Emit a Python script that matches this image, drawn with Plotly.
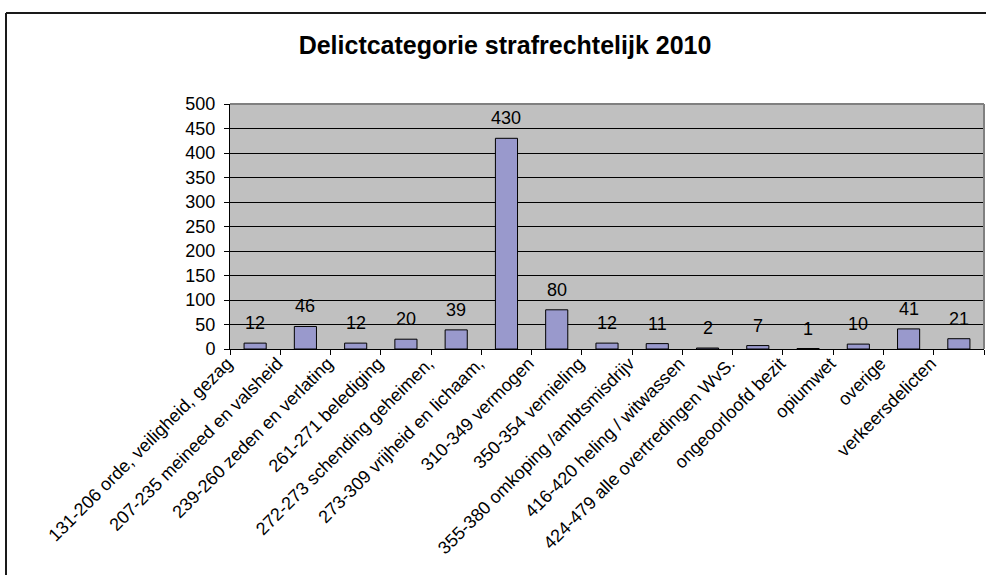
import plotly.graph_objects as go

categories = [
    "131-206 orde, veiligheid, gezag",
    "207-235 meineed en valsheid",
    "239-260 zeden en verlating",
    "261-271 belediging",
    "272-273 schending geheimen,",
    "273-309 vrijheid en lichaam,",
    "310-349 vermogen",
    "350-354 vernieling",
    "355-380 omkoping /ambtsmisdrijv",
    "416-420 heling / witwassen",
    "424-479 alle overtredingen WvS.",
    "ongeoorloofd bezit",
    "opiumwet",
    "overige",
    "verkeersdelicten",
]
values = [12, 46, 12, 20, 39, 430, 80, 12, 11, 2, 7, 1, 10, 41, 21]
title_text = "Delictcategorie strafrechtelijk 2010"

W, H = 986, 575
L, R, T, B = 230, 2, 104, 226
pw = W - L - R
ph = H - T - B
FONT = "Liberation Sans, Arial, sans-serif"

fig = go.Figure()
fig.add_trace(go.Bar(
    x=categories, y=values,
    marker=dict(color="#9999CC", line=dict(color="#000000", width=1)),
    width=0.44,
    hoverinfo="x+y",
))

annotations = []
for c, v in zip(categories, values):
    annotations.append(dict(
        x=c, y=v, xref="x", yref="y", text=str(v), showarrow=False,
        yanchor="bottom", yshift=8,
        font=dict(family=FONT, size=18, color="#000000"),
    ))

def px_x(p):
    return (p - L) / pw

def px_y(p):
    return (H - B - p) / ph

shapes = [
    # outer frame (left and top edges)
    dict(type="line", xref="paper", yref="paper", x0=px_x(6), x1=px_x(6),
         y0=px_y(13), y1=px_y(580), line=dict(color="#1a1a1a", width=2)),
    dict(type="line", xref="paper", yref="paper", x0=px_x(6), x1=px_x(990),
         y0=px_y(13), y1=px_y(13), line=dict(color="#1a1a1a", width=2)),
    # plot area border top/right (gray)
    dict(type="line", xref="paper", yref="paper", x0=0, x1=1, y0=1, y1=1,
         line=dict(color="#808080", width=2)),
    dict(type="line", xref="paper", yref="paper", x0=1, x1=1, y0=0, y1=1,
         line=dict(color="#808080", width=2)),
]

fig.update_layout(
    width=W, height=H,
    margin=dict(l=L, r=R, t=T, b=B, autoexpand=False),
    paper_bgcolor="#FFFFFF",
    plot_bgcolor="#C0C0C0",
    showlegend=False,
    bargap=0.56,
    title=dict(
        text="<b>" + title_text + "</b>",
        x=505 / W, xanchor="center", xref="container",
        y=1 - 45 / H, yanchor="middle", yref="container",
        font=dict(family=FONT, size=25, color="#000000"),
    ),
    xaxis=dict(
        type="category",
        tickangle=-45,
        tickfont=dict(family=FONT, size=18, color="#000000"),
        showline=True, linecolor="#000000", linewidth=1,
        ticks="outside", ticklen=5, tickcolor="#000000",
        tickson="boundaries",
        ticklabelshift=-28,
        ticklabelstandoff=-4,
        showgrid=False, automargin=False,
    ),
    yaxis=dict(
        range=[0, 500], dtick=50, tick0=0,
        tickfont=dict(family=FONT, size=18, color="#000000"),
        showline=True, linecolor="#000000", linewidth=1,
        ticks="outside", ticklen=5, tickcolor="#000000",
        ticklabelstandoff=5,
        showgrid=True, gridcolor="#000000", gridwidth=1,
        zeroline=False, automargin=False,
    ),
    annotations=annotations,
    shapes=shapes,
)

fig.write_html(
    "out.html",
    config={"displayModeBar": False},
    post_script="document.body.style.margin='0';document.body.style.overflow='hidden';",
)
